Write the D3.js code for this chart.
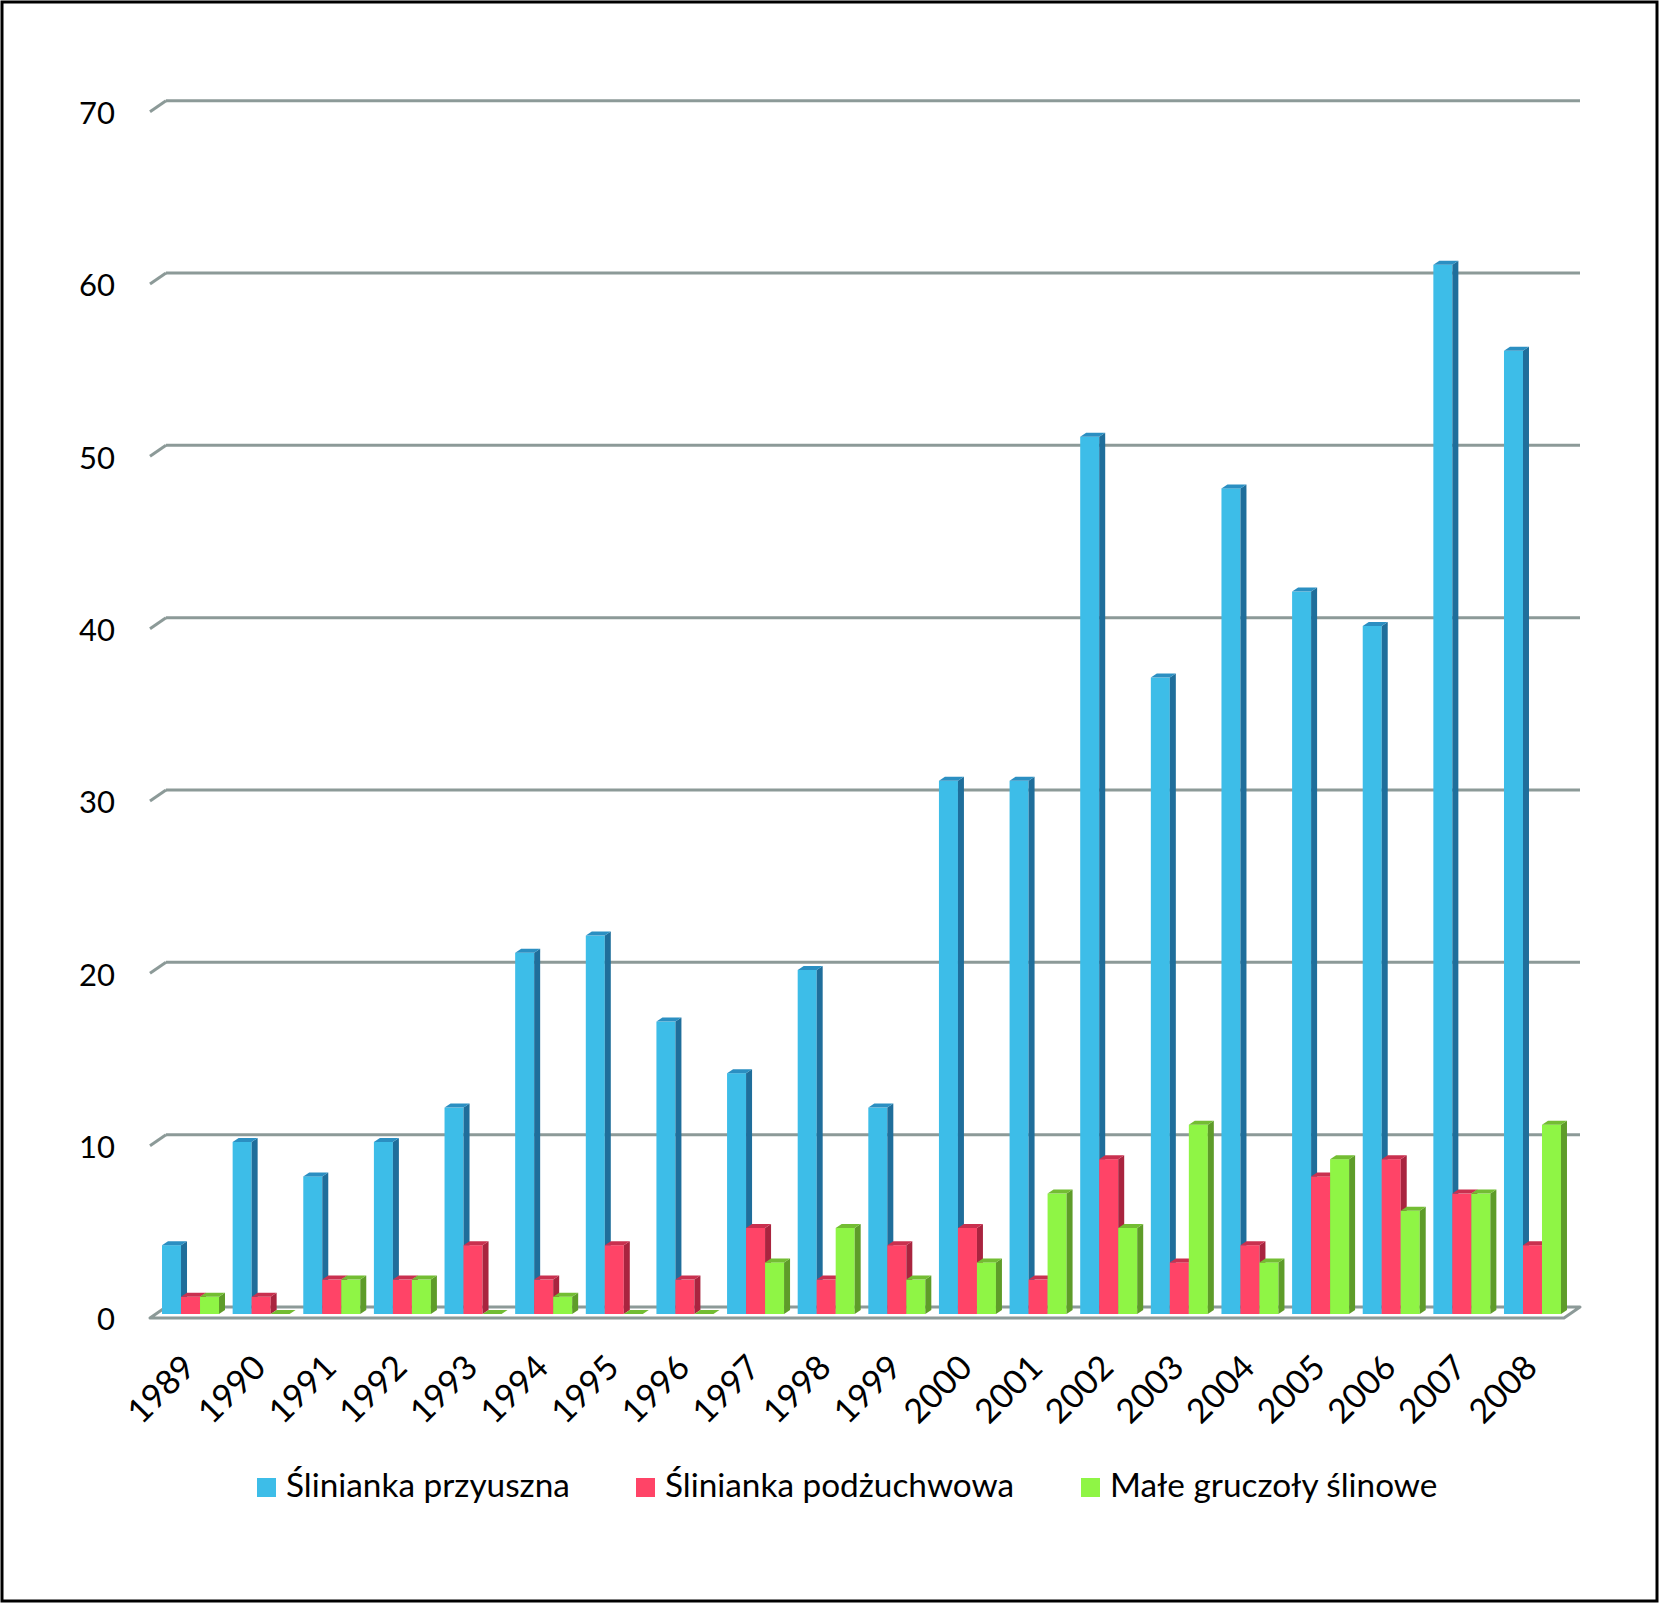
<!DOCTYPE html>
<html>
<head>
<meta charset="utf-8">
<script src="https://cdn.jsdelivr.net/npm/d3@7/dist/d3.min.js"></script>
<style>
  html, body { margin: 0; padding: 0; background: #fff; }
  svg { display: block; }
  text { font-family: Lato, "Open Sans", sans-serif; fill: #000; }
</style>
</head>
<body>
<svg id="chart" width="1661" height="1605"></svg>
<script>
const years = ["1989","1990","1991","1992","1993","1994","1995","1996","1997","1998",
               "1999","2000","2001","2002","2003","2004","2005","2006","2007","2008"];
const seriesNames = ["Ślinianka przyuszna", "Ślinianka podżuchwowa", "Małe gruczoły ślinowe"];
const parotid     = [4,10,8,10,12,21,22,17,14,20,12,31,31,51,37,48,42,40,61,56];
const submandib   = [1,1,2,2,4,2,4,2,5,2,4,5,2,9,3,4,8,9,7,4];
const minorGlands = [1,0,2,2,0,1,0,0,3,5,2,3,7,5,11,3,9,6,7,11];
const yTicks = [0,10,20,30,40,50,60,70];

const seriesValues = [parotid, submandib, minorGlands];
const colors = [
  {front: "#3dbde8", side: "#1f6e9b", top: "#2b8fc2"},
  {front: "#ff4467", side: "#a9243f", top: "#c9304f"},
  {front: "#8ff545", side: "#5e9c29", top: "#73bd33"}
];

const svg = d3.select("#chart");

// border
svg.append("rect").attr("x", 2).attr("y", 2).attr("width", 1655).attr("height", 1599)
  .attr("fill", "#fff").attr("stroke", "#000").attr("stroke-width", 3);

// back wall scale & bar front plane scale
const yBack = d3.scaleLinear().domain([0, 70]).range([1307, 100.7]);
const yBar  = d3.scaleLinear().domain([0, 70]).range([1314, 1314 - 70 * 17.2]);
const x = d3.scaleBand().domain(years).range([155.2, 1567.8]).paddingInner(0.193).paddingOuter(0.0965);
const xs = d3.scaleBand().domain(d3.range(3)).range([0, x.bandwidth()]);

const backX0 = 166, backX1 = 1580, depthX = 16, depthY = 11;
const gridColor = "#8c9a98";

// floor
svg.append("polygon")
  .attr("points", [[backX0, yBack(0)], [backX1, yBack(0)], [backX1 - depthX, yBack(0) + depthY], [backX0 - depthX, yBack(0) + depthY]].map(p => p.join(",")).join(" "))
  .attr("fill", "#fff").attr("stroke", gridColor).attr("stroke-width", 3).attr("stroke-linejoin", "round");

// gridlines
const g = svg.append("g");
yTicks.filter(t => t > 0).forEach(t => {
  g.append("line").attr("x1", backX0).attr("x2", backX1).attr("y1", yBack(t)).attr("y2", yBack(t))
    .attr("stroke", gridColor).attr("stroke-width", 3);
  g.append("line").attr("x1", backX0 - depthX).attr("y1", yBack(t) + depthY)
    .attr("x2", backX0).attr("y2", yBack(t))
    .attr("stroke", gridColor).attr("stroke-width", 3);
});

// y labels
svg.append("g").selectAll("text").data(yTicks).join("text")
  .attr("x", 115).attr("y", d => yBack(d) + 12)
  .attr("text-anchor", "end").attr("dy", "0.36em")
  .style("font-size", "31px").text(d => d);

// bars
const dx = 6, dy = -4;
const bars = svg.append("g");
years.forEach((yr, i) => {
  seriesValues.forEach((vals, s) => {
    const v = vals[i];
    const bx = x(yr) + xs(s), w = xs.bandwidth();
    const top = yBar(v), base = yBar(0);
    const c = colors[s];
    bars.append("rect").attr("x", bx).attr("y", top).attr("width", w).attr("height", base - top).attr("fill", c.front);
    bars.append("polygon").attr("points",
      [[bx + w, top], [bx + w + dx, top + dy], [bx + w + dx, base + dy], [bx + w, base]].map(p => p.join(",")).join(" "))
      .attr("fill", c.side);
    bars.append("polygon").attr("points",
      [[bx, top], [bx + dx, top + dy], [bx + w + dx, top + dy], [bx + w, top]].map(p => p.join(",")).join(" "))
      .attr("fill", c.top);
  });
});

// x labels
svg.append("g").selectAll("text").data(years).join("text")
  .attr("transform", d => `translate(${x(d) + x.bandwidth() / 2 - 2},1361) rotate(-45)`)
  .attr("text-anchor", "end").attr("dy", "0.36em")
  .style("font-size", "34px").text(d => d);

// legend
const legX = [257, 636, 1081];
const leg = svg.append("g");
seriesNames.forEach((name, s) => {
  leg.append("rect").attr("x", legX[s]).attr("y", 1478).attr("width", 19).attr("height", 19).attr("fill", colors[s].front);
});
const legTexts = leg.selectAll("text.leg").data(seriesNames).join("text").attr("class", "leg")
  .attr("x", (d, s) => legX[s] + 29).attr("y", 1497)
  .style("font-size", "30px").text(d => d);
const w0 = legTexts.node().getComputedTextLength();
const fs = 30 * 284 / w0;
legTexts.style("font-size", fs + "px");
</script>
</body>
</html>
